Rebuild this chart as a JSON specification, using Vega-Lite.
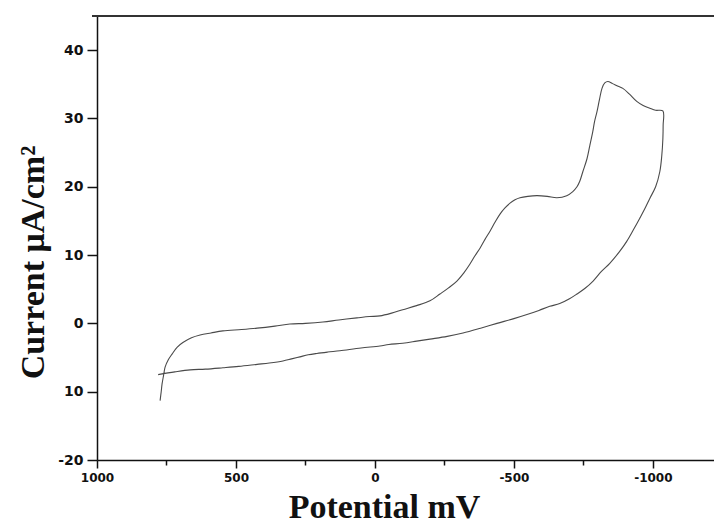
{
  "$schema": "https://vega.github.io/schema/vega-lite/v6.json",
  "width": 617,
  "height": 444,
  "autosize": {"type": "none"},
  "padding": {"left": 97, "top": 16, "right": 0, "bottom": 63},
  "background": "white",
  "config": {"view": {"stroke": null}},
  "data": {"values": [
    {"i":1,"E":773,"I":-11.3},{"i":2,"E":769,"I":-10.0},{"i":3,"E":766,"I":-8.9},{"i":4,"E":760,"I":-7.5},{"i":5,"E":755,"I":-6.4},
    {"i":6,"E":743,"I":-5.3},{"i":7,"E":730,"I":-4.5},{"i":8,"E":712,"I":-3.5},{"i":9,"E":691,"I":-2.8},{"i":10,"E":660,"I":-2.1},
    {"i":11,"E":629,"I":-1.7},{"i":12,"E":590,"I":-1.4},{"i":13,"E":547,"I":-1.1},{"i":14,"E":480,"I":-0.9},{"i":15,"E":424,"I":-0.7},
    {"i":16,"E":360,"I":-0.4},{"i":17,"E":306,"I":-0.1},{"i":18,"E":250,"I":0.0},{"i":19,"E":187,"I":0.2},{"i":20,"E":130,"I":0.5},
    {"i":21,"E":65,"I":0.8},{"i":22,"E":20,"I":1.0},{"i":23,"E":-18,"I":1.1},{"i":24,"E":-60,"I":1.5},{"i":25,"E":-100,"I":2.0},
    {"i":26,"E":-150,"I":2.6},{"i":27,"E":-198,"I":3.3},{"i":28,"E":-234,"I":4.3},{"i":29,"E":-265,"I":5.2},{"i":30,"E":-295,"I":6.2},
    {"i":31,"E":-320,"I":7.4},{"i":32,"E":-342,"I":8.7},{"i":33,"E":-360,"I":9.9},{"i":34,"E":-378,"I":11.0},{"i":35,"E":-396,"I":12.3},
    {"i":36,"E":-414,"I":13.5},{"i":37,"E":-432,"I":14.8},{"i":38,"E":-450,"I":16.0},{"i":39,"E":-468,"I":16.9},{"i":40,"E":-486,"I":17.6},
    {"i":41,"E":-504,"I":18.1},{"i":42,"E":-522,"I":18.4},{"i":43,"E":-550,"I":18.6},{"i":44,"E":-583,"I":18.7},{"i":45,"E":-620,"I":18.6},
    {"i":46,"E":-655,"I":18.4},{"i":47,"E":-690,"I":18.7},{"i":48,"E":-712,"I":19.3},{"i":49,"E":-727,"I":20.0},{"i":50,"E":-737,"I":20.8},
    {"i":51,"E":-748,"I":22.2},{"i":52,"E":-763,"I":24.1},{"i":53,"E":-773,"I":26.0},{"i":54,"E":-784,"I":28.1},{"i":55,"E":-790,"I":29.5},
    {"i":56,"E":-799,"I":31.0},{"i":57,"E":-808,"I":32.8},{"i":58,"E":-817,"I":34.4},{"i":59,"E":-827,"I":35.2},{"i":60,"E":-838,"I":35.4},
    {"i":61,"E":-855,"I":35.1},{"i":62,"E":-875,"I":34.7},{"i":63,"E":-892,"I":34.4},{"i":64,"E":-915,"I":33.6},{"i":65,"E":-942,"I":32.5},
    {"i":66,"E":-965,"I":31.9},{"i":67,"E":-989,"I":31.5},{"i":68,"E":-1010,"I":31.2},{"i":69,"E":-1036,"I":31.1},
    {"i":70,"E":-1037,"I":29.0},{"i":71,"E":-1036,"I":27.0},{"i":72,"E":-1032,"I":24.5},{"i":73,"E":-1025,"I":22.2},{"i":74,"E":-1010,"I":20.0},
    {"i":75,"E":-989,"I":18.3},{"i":76,"E":-970,"I":16.7},{"i":77,"E":-953,"I":15.4},{"i":78,"E":-930,"I":13.7},{"i":79,"E":-906,"I":12.0},
    {"i":80,"E":-880,"I":10.5},{"i":81,"E":-845,"I":8.8},{"i":82,"E":-815,"I":7.6},{"i":83,"E":-785,"I":6.2},{"i":84,"E":-755,"I":5.1},
    {"i":85,"E":-727,"I":4.3},{"i":86,"E":-700,"I":3.6},{"i":87,"E":-665,"I":2.9},{"i":88,"E":-629,"I":2.5},{"i":89,"E":-590,"I":1.9},
    {"i":90,"E":-547,"I":1.3},{"i":91,"E":-500,"I":0.7},{"i":92,"E":-439,"I":0.0},{"i":93,"E":-380,"I":-0.7},{"i":94,"E":-317,"I":-1.4},
    {"i":95,"E":-260,"I":-1.9},{"i":96,"E":-198,"I":-2.3},{"i":97,"E":-150,"I":-2.6},{"i":98,"E":-100,"I":-2.9},{"i":99,"E":-50,"I":-3.1},
    {"i":100,"E":-18,"I":-3.3},{"i":101,"E":50,"I":-3.6},{"i":102,"E":126,"I":-4.0},{"i":103,"E":170,"I":-4.2},{"i":104,"E":209,"I":-4.4},
    {"i":105,"E":240,"I":-4.6},{"i":106,"E":270,"I":-4.9},{"i":107,"E":300,"I":-5.2},{"i":108,"E":331,"I":-5.5},{"i":109,"E":380,"I":-5.8},
    {"i":110,"E":424,"I":-6.0},{"i":111,"E":490,"I":-6.3},{"i":112,"E":547,"I":-6.5},{"i":113,"E":610,"I":-6.7},{"i":114,"E":665,"I":-6.8},
    {"i":115,"E":720,"I":-7.1},{"i":116,"E":780,"I":-7.5}
  ]},
  "layer": [
    {
      "mark": {"type": "rule", "color": "#333", "strokeWidth": 1.5, "clip": false},
      "encoding": {"y": {"datum": 45, "type": "quantitative"}, "x": {"datum": 1018, "type": "quantitative"}, "x2": {"datum": -1220}}
    },
    {
      "mark": {"type": "line", "color": "#4a4a4a", "strokeWidth": 1.1, "interpolate": "catmull-rom"},
      "encoding": {
        "order": {"field": "i", "type": "quantitative"},
        "x": {
          "field": "E", "type": "quantitative",
          "scale": {"domain": [-1220, 1000], "reverse": true, "nice": false, "zero": false},
          "axis": {
            "title": "Potential mV",
            "titleFont": "Liberation Serif", "titleFontSize": 34, "titleFontWeight": "bold", "titleColor": "#111",
            "titleX": 287, "titleY": 57, "titleAlign": "center", "titleBaseline": "alphabetic",
            "values": [1000, 750, 500, 250, 0, -250, -500, -750, -1000],
            "labelExpr": "datum.value % 500 == 0 ? '' + datum.value : ''",
            "labelFont": "DejaVu Sans", "labelFontWeight": "bold", "labelFontSize": 12, "labelColor": "#111",
            "labelPadding": 4, "labelFlush": false, "labelOverlap": false,
            "tickSize": {"condition": {"test": "datum.value % 500 == 0", "value": 8}, "value": 5},
            "tickColor": "#111", "tickWidth": 1.5,
            "domainColor": "#111", "domainWidth": 1.5,
            "grid": false
          }
        },
        "y": {
          "field": "I", "type": "quantitative",
          "scale": {"domain": [-20, 45], "nice": false, "zero": false},
          "axis": {
            "title": "Current μA/cm²",
            "titleFont": "Liberation Serif", "titleFontSize": 34, "titleFontWeight": "bold", "titleColor": "#111",
            "titleAngle": -90, "titleX": -54, "titleY": 246, "titleAlign": "center", "titleBaseline": "alphabetic",
            "values": [-20, -15, -10, -5, 0, 5, 10, 15, 20, 25, 30, 35, 40, 45],
            "labelExpr": "datum.value == -10 ? '10' : (datum.value % 10 == 0 ? '' + datum.value : '')",
            "labelFont": "DejaVu Sans", "labelFontWeight": "bold", "labelFontSize": 14, "labelColor": "#111",
            "labelPadding": 4, "labelFlush": false, "labelOverlap": false,
            "tickSize": {"condition": {"test": "datum.value % 10 == 0", "value": 10}, "value": 6},
            "tickColor": "#111", "tickWidth": 1.5,
            "domainColor": "#111", "domainWidth": 1.5,
            "grid": false
          }
        }
      }
    }
  ]
}
